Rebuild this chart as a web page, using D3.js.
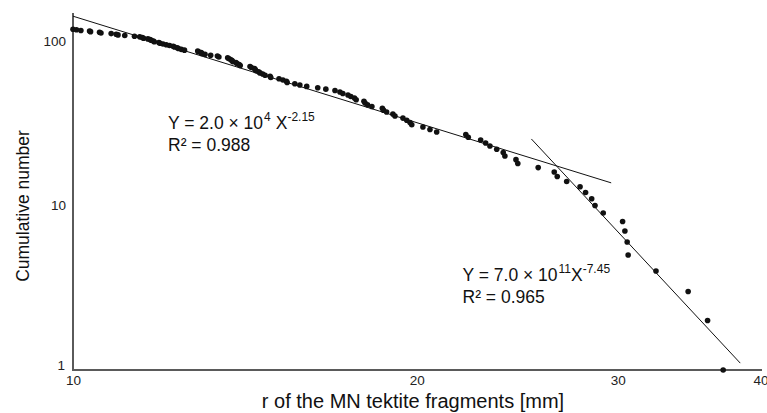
<!DOCTYPE html>
<html><head><meta charset="utf-8">
<script src="https://cdn.jsdelivr.net/npm/d3@7"></script>
<style>
body{margin:0;background:#fff;}
svg text{font-family:"Liberation Sans",Arial,sans-serif;}
</style></head>
<body><svg id="c" width="767" height="413"></svg>
<script>
// fragment radius (mm), ascending
const radius = [10.00,10.07,10.16,10.34,10.36,10.55,10.58,10.80,10.91,10.95,11.10,11.32,11.44,11.50,11.53,11.63,11.68,11.71,11.76,11.78,
11.89,11.92,11.99,12.07,12.15,12.24,12.27,12.34,12.37,12.44,12.52,12.86,12.88,12.95,12.97,13.05,13.20,13.38,13.42,13.66,
13.70,13.75,13.78,13.80,13.89,13.92,13.98,14.01,14.29,14.33,14.42,14.44,14.46,14.54,14.58,14.66,14.73,14.88,14.90,15.15,
15.27,15.38,15.40,15.64,15.80,16.02,16.38,16.65,16.96,17.13,17.23,17.41,17.51,17.64,17.70,17.98,18.02,18.11,18.27,18.66,
18.70,18.82,19.06,19.14,19.45,19.60,19.73,19.80,20.25,20.54,20.82,22.08,22.19,22.75,22.98,23.18,23.50,23.81,23.89,24.43,
24.52,25.55,26.39,26.55,27.06,27.80,28.11,28.46,28.65,29.13,30.29,30.43,30.57,30.63,32.40,34.57,35.95,37.10];
// cumulative number for each radius
const cumulative = [118,117,116,115,114,113,112,111,110,109,108,107,106,105,104,103,102,101,100,99,
98,97,96,95,94,93,92,91,90,89,88,87,86,85,84,83,82,81,80,79,
78,77,76,75,74,73,72,71,70,69,68,67,66,65,64,63,62,61,60,59,
58,57,56,55,54,53,52,51,50,49,48,47,46,45,44,43,42,41,40,39,
38,37,36,35,34,33,32,31,30,29,28,27,26,25,24,23,22,21,20,19,
18,17,16,15,14,13,12,11,10,9,8,7,6,5,4,3,2,1];
const xTicks = [10,20,30,40];
const yTicks = [1,10,100];
// power-law fits: Y = a * X^b over [x0, x1]
const fit1 = {a:2.0e4, b:-2.15, x0:10, x1:29.6};
const fit2 = {a:7.0e11, b:-7.45, x0:25.2, x1:38.4};

const svg = d3.select("#c");
const x = d3.scaleLog().domain([10,40]).range([73,760.5]);
const y = d3.scaleLog().domain([1,146]).range([370,14]);

// axes
const gx = svg.append("g").attr("transform","translate(0,370)")
  .call(d3.axisBottom(x).tickValues(xTicks).tickFormat(d3.format("d")).tickSize(0).tickPadding(5));
gx.select(".domain").attr("stroke","#5a5a5a").attr("stroke-width",2).attr("d","M72,0H762");
gx.selectAll("text").attr("font-size",13.5).attr("fill","#222")
  .attr("font-family","Liberation Sans, Arial, sans-serif");

const gy = svg.append("g").attr("transform","translate(73,0)")
  .call(d3.axisLeft(y).tickValues(yTicks).tickFormat(d3.format("d")).tickSize(0).tickPadding(7));
gy.select(".domain").attr("stroke","#5a5a5a").attr("stroke-width",2).attr("d","M0,13V371");
gy.selectAll("text").attr("font-size",13.5).attr("fill","#222")
  .attr("font-family","Liberation Sans, Arial, sans-serif");
gy.selectAll(".tick").filter(d=>d===1).select("text").attr("dy","-0.05em").attr("x",-8);

// fit lines
const line = d3.line().x(d=>x(d[0])).y(d=>y(d[1]));
[fit1,fit2].forEach(f=>{
  svg.append("path")
    .attr("d", line([[f.x0, f.a*Math.pow(f.x0,f.b)],[f.x1, f.a*Math.pow(f.x1,f.b)]]))
    .attr("stroke","#111").attr("stroke-width",1).attr("fill","none");
});

// points
svg.append("g").selectAll("circle").data(radius.map((r,i)=>[r,cumulative[i]])).join("circle")
  .attr("cx",d=>x(d[0])).attr("cy",d=>y(d[1])).attr("r",2.8).attr("fill","#111");

// annotations
function eq(xp, yp, coef, exp10, expX, r2, gap){
  const t = svg.append("text").attr("x",xp).attr("y",yp).attr("font-size",17.5).attr("fill","#111");
  t.append("tspan").text("Y = "+coef+" × 10");
  t.append("tspan").attr("font-size",12).attr("dy",-8).attr("dx",1).text(exp10);
  t.append("tspan").attr("dy",8).attr("dx",gap).text("X");
  t.append("tspan").attr("font-size",12).attr("dy",-8).text(expX);
  svg.append("text").attr("x",xp).attr("y",yp+22).attr("font-size",17.5).attr("fill","#111").text("R² = "+r2);
}
eq(168,129,"2.0","4","-2.15","0.988",5);
eq(462.5,281,"7.0","11","-7.45","0.965",0);

// axis titles
svg.append("text").attr("x",413).attr("y",408).attr("text-anchor","middle")
  .attr("font-size",20).attr("fill","#111").text("r of the MN tektite fragments [mm]");
svg.append("text").attr("transform","translate(29,206) rotate(-90)").attr("text-anchor","middle")
  .attr("font-size",17.5).attr("fill","#111").text("Cumulative number");
</script></body></html>
